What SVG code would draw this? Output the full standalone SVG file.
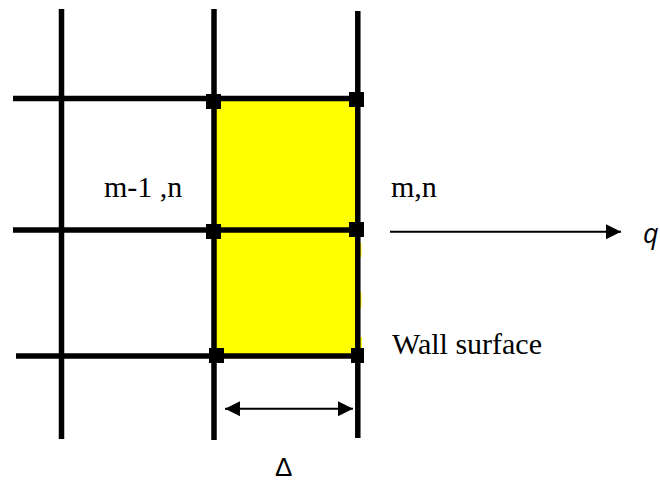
<svg xmlns="http://www.w3.org/2000/svg" width="660" height="482" viewBox="0 0 660 482">
<style>
.g{stroke:#000;stroke-width:5.500;fill:none}
.n{fill:#000}
.y{fill:#ff0}
.a{stroke:#000;stroke-width:2;fill:none}
.t{font-family:"Liberation Serif",serif;font-size:30px;fill:#000}
.s{font-family:"Open Sans","Noto Sans",sans-serif;font-size:27px;fill:#000}
.d{font-family:"Liberation Sans",sans-serif;font-size:26px;fill:#000}
</style>
<defs>
<marker id="ah" markerUnits="userSpaceOnUse" markerWidth="15" markerHeight="16" refX="15" refY="7.500" orient="auto-start-reverse"><path d="M0 0L15 7.500L0 15Z" fill="#000"/></marker>
</defs>
<rect width="660" height="482" fill="#fff"/>
<g id="wall-cell">
<rect class="y" x="214" y="99" width="144" height="256"/>
<rect class="y" x="358" y="243" width="3.500" height="14"/>
<rect class="y" x="358" y="292" width="3.500" height="16"/>
<rect class="y" x="358" y="337" width="4" height="13"/>
</g>
<g id="grid">
<path class="g" d="M61.500 9V439"/>
<path class="g" d="M214 9V440"/>
<path class="g" d="M357.800 11V438"/>
<path class="g" d="M13 98.500H357"/>
<path class="g" d="M13 230H357"/>
<path class="g" d="M16 356H357"/>
</g>
<g id="node-top-inner"><rect class="n" x="206" y="94" width="15" height="15"/></g>
<g id="node-top-outer"><rect class="n" x="349" y="92" width="15" height="15"/></g>
<g id="node-mid-inner"><rect class="n" x="206" y="224" width="15" height="15"/></g>
<g id="node-mid-outer"><rect class="n" x="349" y="222" width="15" height="15"/></g>
<g id="node-bot-inner"><rect class="n" x="209" y="348" width="15" height="15"/></g>
<g id="node-bot-outer"><rect class="n" x="351" y="348" width="13" height="15"/></g>
<g id="connectors">
<path class="a" d="M390 231.700H621" marker-end="url(#ah)"/>
<path class="a" d="M225 408.700H353" marker-start="url(#ah)" marker-end="url(#ah)"/>
</g>
<text class="t" x="104" y="197">m-1 ,n</text>
<text class="t" x="391" y="197">m,n</text>
<text class="t" x="392" y="354">Wall surface</text>
<text class="s" x="643" y="243" font-style="italic">q</text>
<text class="d" x="275" y="476">Δ</text>
</svg>
